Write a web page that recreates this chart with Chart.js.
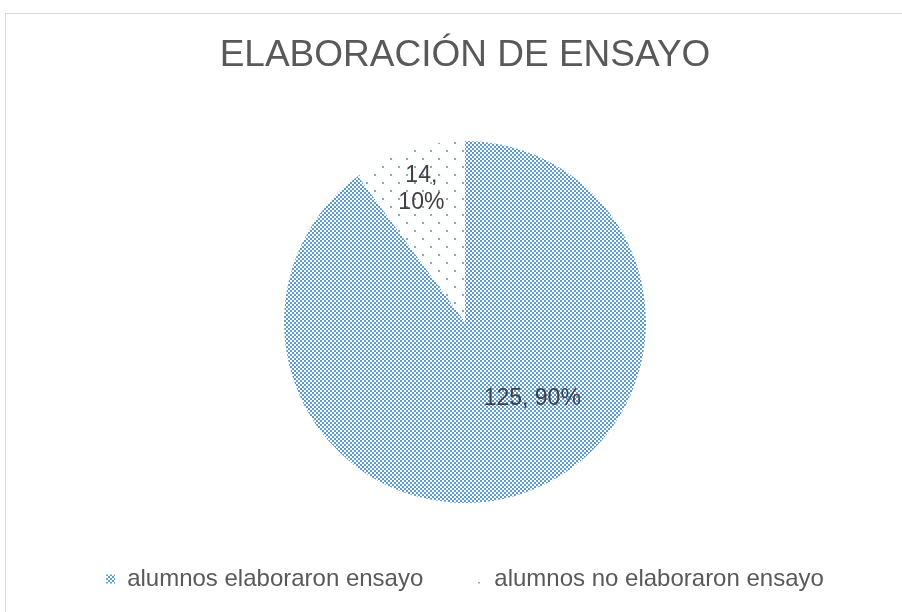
<!DOCTYPE html>
<html>
<head>
<meta charset="utf-8">
<script src="https://cdn.jsdelivr.net/npm/chart.js@4/dist/chart.umd.min.js"></script>
<style>
  html, body { margin: 0; padding: 0; background: #fff; overflow: hidden; }
  body { width: 902px; height: 612px; position: relative; }
  #frame { position: absolute; left: 5px; top: 13px; width: 918px; height: 620px;
           border-left: 1px solid #d9d9d9; border-top: 1px solid #d9d9d9; }
  #wrap { position: absolute; left: 0; top: 0; width: 918px; height: 610px; }
</style>
</head>
<body>
<div id="frame"><div id="wrap"><canvas id="c"></canvas></div></div>
<script>
const chartTitle = 'ELABORACIÓN DE ENSAYO';
const categories = ['alumnos elaboraron ensayo', 'alumnos no elaboraron ensayo'];
const values = [125, 14];

function checkerPattern() {
  const t = document.createElement('canvas');
  t.width = 4; t.height = 4;
  const g = t.getContext('2d');
  g.fillStyle = '#ffffff'; g.fillRect(0, 0, 4, 4);
  g.fillStyle = '#5B9BD5';
  g.fillRect(0, 0, 2, 2); g.fillRect(2, 2, 2, 2);
  return g.createPattern(t, 'repeat');
}
function dotPattern() {
  const t = document.createElement('canvas');
  t.width = 16; t.height = 16;
  const g = t.getContext('2d');
  g.fillStyle = '#ffffff'; g.fillRect(0, 0, 16, 16);
  g.fillStyle = '#7FAADB';
  g.fillRect(0, 0, 2, 2); g.fillRect(8, 8, 2, 2);
  return g.createPattern(t, 'repeat');
}
const fills = [checkerPattern(), dotPattern()];

const total = values.reduce((a, b) => a + b, 0);
const labelLines = [
  v => [v + ', ' + Math.round(v / total * 100) + '%'],
  v => [v + ',', Math.round(v / total * 100) + '%']
];
const labelPlace = [{ r: 0.565, dAngle: -23 }, { r: 0.775, dAngle: 0 }];

const sliceLabels = {
  id: 'sliceLabels',
  afterDatasetsDraw(chart) {
    const ctx = chart.ctx;
    const meta = chart.getDatasetMeta(0);
    ctx.save();
    ctx.font = '23px "Liberation Sans", Arial, sans-serif';
    ctx.fillStyle = '#404040';
    ctx.textAlign = 'center';
    ctx.textBaseline = 'middle';
    meta.data.forEach((arc, i) => {
      const p = arc.getProps(['x', 'y', 'startAngle', 'endAngle', 'outerRadius'], true);
      const a = (p.startAngle + p.endAngle) / 2 + labelPlace[i].dAngle * Math.PI / 180;
      const r = p.outerRadius * labelPlace[i].r;
      const cx = p.x + Math.cos(a) * r, cy = p.y + Math.sin(a) * r;
      const lines = labelLines[i](values[i]);
      const lh = 27;
      lines.forEach((s, k) => {
        ctx.fillText(s, cx, cy + (k - (lines.length - 1) / 2) * lh);
      });
    });
    ctx.restore();
  }
};

new Chart(document.getElementById('c'), {
  type: 'pie',
  data: {
    labels: categories,
    datasets: [{
      data: values,
      backgroundColor: fills,
      borderWidth: 0,
      radius: 181
    }]
  },
  options: {
    responsive: true,
    maintainAspectRatio: false,
    animation: false,
    layout: { padding: { top: 0, bottom: 23, left: 0, right: 0 } },
    plugins: {
      title: {
        display: true,
        text: chartTitle,
        color: '#595959',
        font: { family: '"Liberation Sans", Arial, sans-serif', size: 37, weight: 'normal' },
        padding: { top: 19.8, bottom: 48.8 }
      },
      legend: {
        display: true,
        position: 'bottom',
        labels: {
          color: '#595959',
          font: { family: '"Liberation Sans", Arial, sans-serif', size: 24 },
          boxWidth: 9,
          boxHeight: 9,
          padding: 50
        }
      },
      tooltip: { enabled: false }
    }
  },
  plugins: [sliceLabels]
});
</script>
</body>
</html>
